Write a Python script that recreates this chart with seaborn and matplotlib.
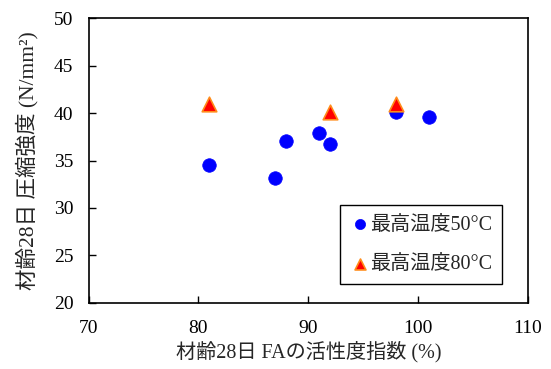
import matplotlib
matplotlib.use("Agg")
import matplotlib.pyplot as plt
import seaborn as sns

# data
x_50 = [81, 87, 88, 91, 92, 98, 101]
y_50 = [34.5, 33.2, 37.1, 37.9, 36.7, 40.1, 39.6]
x_80 = [81, 92, 98]
y_80 = [40.9, 40.1, 41.0]

label_50 = "最高温度50°C"
label_80 = "最高温度80°C"
x_label = "材齢28日 FAの活性度指数 (%)"
y_label = "材齢28日 圧縮強度 (N/mm²)"

sns.set_style("ticks")
plt.rcParams['font.family'] = ['Liberation Serif', 'Noto Sans CJK JP']

fig = plt.figure(figsize=(5.51, 3.69), dpi=100)
ax = fig.add_axes([0.1608, 0.179, 0.7974, 0.772])

sns.scatterplot(x=x_50, y=y_50, ax=ax, marker='o', color='#0000FF',
                edgecolor='#0000FF', linewidth=0.5, s=95, label=label_50, zorder=3)
sns.scatterplot(x=x_80, y=y_80, ax=ax, marker='^', color='#FF0000',
                edgecolor='#FF8C1A', linewidth=1.2, s=110, label=label_80, zorder=4)

ax.set_xlim(70, 110)
ax.set_ylim(20, 50)
ax.set_xticks([70, 80, 90, 100, 110])
ax.set_yticks([20, 25, 30, 35, 40, 45, 50])
ax.tick_params(direction='in', length=5, width=1, labelsize=14, colors='black')
ax.tick_params(axis='x', pad=12)
ax.tick_params(axis='y', pad=11)
for sp in ax.spines.values():
    sp.set_color('black')
    sp.set_linewidth(1.2)

ax.set_xlabel(x_label, fontsize=14.5, labelpad=3)
ax.set_ylabel(y_label, fontsize=15.5, labelpad=11)

leg = ax.legend(loc='lower right', bbox_to_anchor=(0.941, 0.067), fontsize=14.5,
                frameon=True, fancybox=False, edgecolor='black', framealpha=1,
                handletextpad=0.0, labelspacing=1.0, borderpad=0.5, borderaxespad=0,
                handlelength=1.0, markerscale=0.75)
leg.get_frame().set_linewidth(1.0)

fig.savefig("out.png", dpi=100)
